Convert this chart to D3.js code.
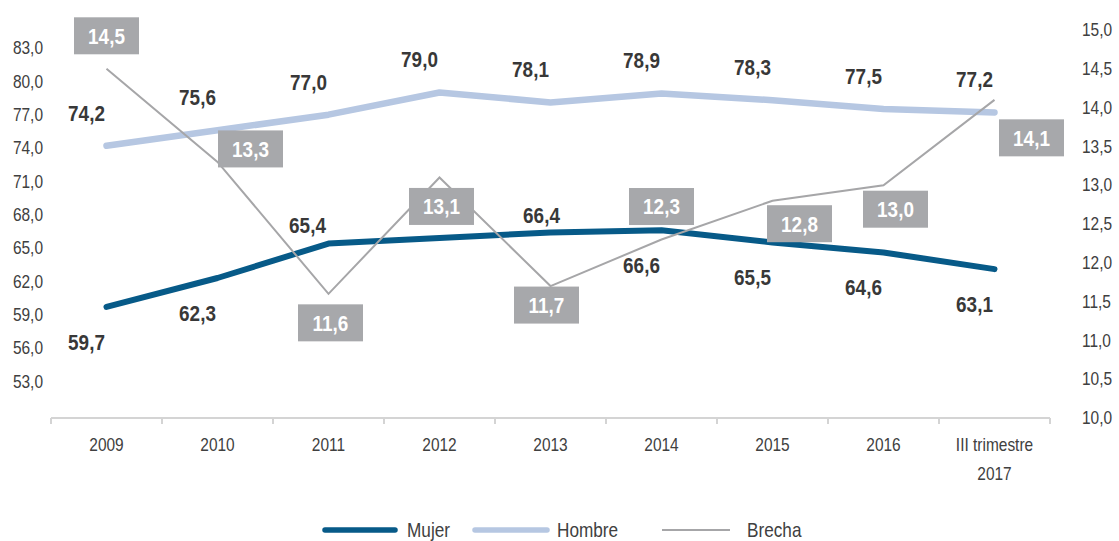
<!DOCTYPE html>
<html>
<head>
<meta charset="utf-8">
<script src="https://cdn.jsdelivr.net/npm/d3@7"></script>
<style>
  html, body { margin: 0; padding: 0; background: #ffffff; }
  svg { display: block; font-family: "Liberation Sans", Arial, sans-serif; }
  .tick-label { fill: #404040; font-size: 18px; }
  .val { fill: #383838; font-size: 22px; font-weight: bold; }
  .box-text { fill: #ffffff; font-size: 22px; font-weight: bold; }
  .legend-text { fill: #404040; font-size: 20px; }
</style>
</head>
<body>
<svg id="chart" width="1119" height="541"></svg>
<script>
// Categories (x axis); the last one wraps onto two lines
const categories = ["2009", "2010", "2011", "2012", "2013", "2014", "2015", "2016", "III trimestre 2017"];

// Series values
const mujer  = [59.7, 62.3, 65.4, 65.9, 66.4, 66.6, 65.5, 64.6, 63.1];
const hombre = [74.2, 75.6, 77.0, 79.0, 78.1, 78.9, 78.3, 77.5, 77.2];
const brecha = [14.5, 13.3, 11.6, 13.1, 11.7, 12.3, 12.8, 13.0, 14.1];

// Tick values for both value axes
const leftTicks  = [53, 56, 59, 62, 65, 68, 71, 74, 77, 80, 83];
const rightTicks = [10, 10.5, 11, 11.5, 12, 12.5, 13, 13.5, 14, 14.5, 15];

// Where each value label sits relative to its point
const mujerLabelSide  = ["below", "below", "above", null, "aboveNear", "below", "below", "below", "below"];
const brechaLabelSide = ["top", "right", "bottom", "bottom", "bottomNear", "top", "bottomRight", "bottomRightNear", "bottomRightFar"];

const series = [
  { name: "Mujer",  color: "#075a88", width: 6,   legendWidth: 5.5 },
  { name: "Hombre", color: "#b6c7e2", width: 6.5, legendWidth: 5.5 },
  { name: "Brecha", color: "#a6a6a8", width: 2,   legendWidth: 2 }
];

// Horizontal squeeze that gives the type a condensed look
const SX = 0.86;

const fmt = v => d3.format(".1f")(v).replace(".", ",");

const svg = d3.select("#chart");

const plot = { left: 51, right: 1050, top: 48, bottom: 418 };

const x = d3.scaleBand().domain(categories).range([plot.left, plot.right]).padding(0);
const cx = c => x(c) + x.bandwidth() / 2;

const yLeft  = d3.scaleLinear().domain([49.7, 83]).range([plot.bottom, plot.top]);
const yRight = d3.scaleLinear().domain([10, 15]).range([plot.bottom, 30]);

// Text placed at (px, py) and squeezed horizontally around its anchor
function label(parent, px, py, txt, cls, anchor) {
  return parent.append("text")
    .attr("class", cls)
    .attr("text-anchor", anchor || "middle")
    .attr("dy", "0.36em")
    .attr("transform", `translate(${px},${py}) scale(${SX},1)`)
    .text(txt);
}

// X axis: light rule with boundary ticks
const xAxis = svg.append("g").attr("transform", `translate(0,${plot.bottom})`);
xAxis.append("line")
  .attr("x1", plot.left).attr("x2", plot.right)
  .attr("stroke", "#d4d4d4").attr("stroke-width", 2);
const boundaries = categories.map(c => x(c)).concat([plot.right]);
xAxis.selectAll("line.tk").data(boundaries).join("line")
  .attr("class", "tk")
  .attr("x1", d => d).attr("x2", d => d)
  .attr("y1", 0).attr("y2", 6)
  .attr("stroke", "#d4d4d4").attr("stroke-width", 2);
categories.forEach(c => {
  const parts = c.startsWith("III") ? ["III trimestre", "2017"] : [c];
  parts.forEach((p, i) => label(xAxis, cx(c), 27 + i * 29, p, "tick-label"));
});

// Left value axis (labels only)
const gl = svg.append("g").attr("transform", `translate(43,0)`)
  .call(d3.axisLeft(yLeft).tickValues(leftTicks).tickFormat(fmt).tickSize(0).tickPadding(0));
gl.select(".domain").remove();
gl.selectAll("text").attr("class", "tick-label").attr("font-size", null).attr("font-family", null)
  .attr("fill", null).attr("transform", `scale(${SX},1)`);

// Right value axis (labels only)
const gr = svg.append("g").attr("transform", `translate(1082,0)`)
  .call(d3.axisRight(yRight).tickValues(rightTicks).tickFormat(fmt).tickSize(0).tickPadding(0));
gr.select(".domain").remove();
gr.selectAll("text").attr("class", "tick-label").attr("font-size", null).attr("font-family", null)
  .attr("fill", null).attr("transform", `scale(${SX},1)`);

// Lines
const lineFor = (vals, y) => d3.line()
  .x((d, i) => cx(categories[i]))
  .y(d => y(d))(vals);

svg.append("path").attr("d", lineFor(hombre, yLeft))
  .attr("fill", "none").attr("stroke", series[1].color).attr("stroke-width", series[1].width)
  .attr("stroke-linecap", "round").attr("stroke-linejoin", "round");
svg.append("path").attr("d", lineFor(mujer, yLeft))
  .attr("fill", "none").attr("stroke", series[0].color).attr("stroke-width", series[0].width)
  .attr("stroke-linecap", "round").attr("stroke-linejoin", "round");
svg.append("path").attr("d", lineFor(brecha, yRight))
  .attr("fill", "none").attr("stroke", series[2].color).attr("stroke-width", series[2].width)
  .attr("stroke-linejoin", "miter");

// Gap labels: grey boxes with white text
const boxW = 65, boxH = 37;
const boxOffset = {
  top: [0, -33], right: [33, -13], bottom: [2, 29], bottomNear: [-4, 19],
  bottomRight: [27, 23], bottomRightNear: [12, 24], bottomRightFar: [37, 38]
};
const boxLayer = svg.append("g");
brecha.forEach((v, i) => {
  const o = boxOffset[brechaLabelSide[i]];
  const bx = cx(categories[i]) + o[0], by = yRight(v) + o[1];
  boxLayer.append("rect")
    .attr("x", bx - boxW / 2).attr("y", by - boxH / 2)
    .attr("width", boxW).attr("height", boxH)
    .attr("fill", "#a7a8ab");
  label(boxLayer, bx, by, fmt(v), "box-text");
});

// Value labels: Hombre always above, Mujer mostly below
const valLayer = svg.append("g");
hombre.forEach((v, i) => label(valLayer, cx(categories[i]) - 20, yLeft(v) - 33, fmt(v), "val"));

const mujerOffset = { below: [-20, 35], above: [-21, -18], aboveNear: [-9, -17] };
mujer.forEach((v, i) => {
  const side = mujerLabelSide[i];
  if (!side) return;
  const o = mujerOffset[side];
  label(valLayer, cx(categories[i]) + o[0], yLeft(v) + o[1], fmt(v), "val");
});

// Legend
const legendItems = [
  { s: series[0], x1: 325, x2: 395, tx: 407 },
  { s: series[1], x1: 475, x2: 547, tx: 557 },
  { s: series[2], x1: 662, x2: 730, tx: 747 }
];
const lg = svg.append("g").attr("transform", "translate(0,530)");
legendItems.forEach(d => {
  lg.append("line")
    .attr("x1", d.x1).attr("x2", d.x2)
    .attr("stroke", d.s.color)
    .attr("stroke-width", d.s.legendWidth)
    .attr("stroke-linecap", d.s.legendWidth > 3 ? "round" : "butt");
  label(lg, d.tx, 0, d.s.name, "legend-text", "start");
});
</script>
</body>
</html>
